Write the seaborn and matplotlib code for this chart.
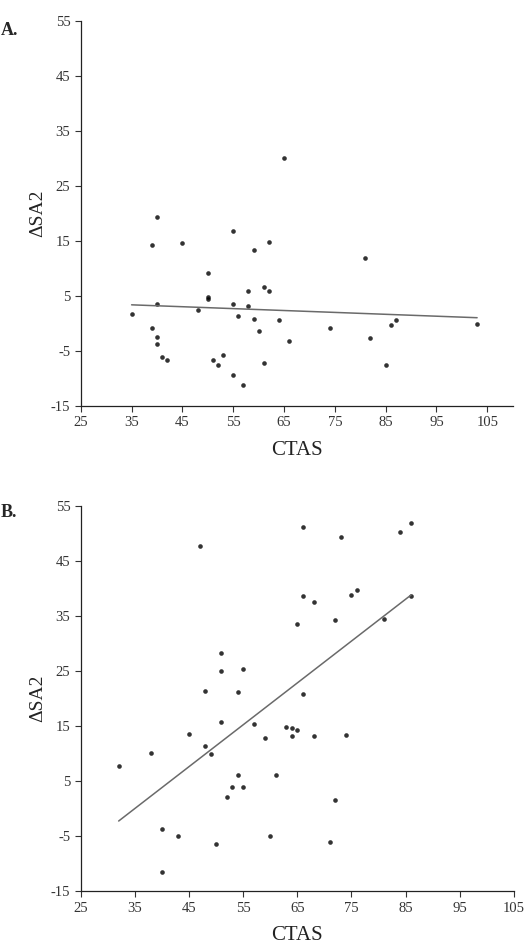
import numpy as np
import pandas as pd
import matplotlib
matplotlib.use("Agg")
import matplotlib.pyplot as plt
import seaborn as sns

# Panel A: CTAS vs delta SA2
ctas_a = [35, 39, 39, 40, 40, 40, 40, 41, 42, 45, 48, 50, 50, 50, 51, 52, 53, 55, 55, 55,
          56, 57, 58, 58, 59, 59, 60, 61, 61, 62, 62, 64, 65, 66, 74, 81, 82, 85, 86, 87, 103]
dsa2_a = [1.8, 14.2, -0.9, 19.4, 3.5, -2.5, -3.7, -6.0, -6.6, 14.6, 2.4, 9.2, 4.9, 4.4, -6.6,
          -7.5, -5.7, 16.9, 3.5, -9.4, 1.4, -11.2, 5.9, 3.2, 13.4, 0.8, -1.3, 6.7, -7.1, 14.8,
          5.9, 0.6, 30.1, -3.1, -0.8, 12.0, -2.7, -7.5, -0.2, 0.6, 0.0]

# Panel B
ctas_b = [32, 38, 40, 40, 43, 45, 47, 48, 48, 49, 50, 51, 51, 51, 52, 53, 54, 54, 55, 55,
          57, 59, 60, 61, 63, 64, 64, 65, 65, 66, 66, 66, 68, 68, 71, 72, 72, 73, 74, 75,
          76, 81, 84, 86, 86]
dsa2_b = [7.8, 10.1, -3.7, -11.5, -5.0, 13.5, 47.8, 21.4, 11.3, 10.0, -6.4, 15.7, 28.2, 25.0,
          2.1, 4.0, 6.05, 21.2, 4.0, 25.4, 15.3, 12.9, -5.0, 6.05, 14.9, 14.7, 13.2, 14.3, 33.6,
          51.1, 38.6, 20.8, 13.2, 37.6, -6.0, 1.5, 34.2, 49.4, 13.4, 38.9, 39.7, 34.5, 50.2,
          51.9, 38.6]

y_ticks = [-15, -5, 5, 15, 25, 35, 45, 55]
x_ticks = [25, 35, 45, 55, 65, 75, 85, 95, 105]

sns.set_style("ticks")
plt.rcParams['font.family'] = ['Liberation Serif', 'DejaVu Serif']
plt.rcParams['axes.unicode_minus'] = False

fig = plt.figure(figsize=(5.28, 9.51), dpi=100)
ax_a = fig.add_axes([0.153, 0.573, 0.818, 0.405])
ax_b = fig.add_axes([0.153, 0.063, 0.82, 0.405])

panels = [(ax_a, ctas_a, dsa2_a, 110, "A.", 0.968), (ax_b, ctas_b, dsa2_b, 105, "B.", 0.461)]
for ax, xs, ys, xmax, tag, ty in panels:
    df = pd.DataFrame({'CTAS': xs, 'dSA2': ys})
    sns.regplot(data=df, x='CTAS', y='dSA2', ax=ax, ci=None,
                scatter_kws={'s': 11, 'color': 'black', 'linewidths': 0},
                line_kws={'color': '#6a6a6a', 'linewidth': 1.1})
    ax.set_xlim(25, xmax)
    ax.set_ylim(-15, 55)
    ax.set_xticks(x_ticks)
    ax.set_yticks(y_ticks)
    ax.tick_params(labelsize=10.5, labelcolor='#333333', length=4, width=0.8, color='#333333')
    for s in ['top', 'right']:
        ax.spines[s].set_visible(False)
    for s in ['left', 'bottom']:
        ax.spines[s].set_color('#222222')
        ax.spines[s].set_linewidth(0.9)
    ax.set_xlabel('CTAS', fontsize=15, color='#222222', labelpad=8)
    ax.set_ylabel('ΔSA2', fontsize=14, color='#222222', labelpad=3)
    fig.text(0.002, ty, tag, fontsize=13, fontweight='bold', ha='left', va='center')

fig.savefig('out.png', dpi=100)
